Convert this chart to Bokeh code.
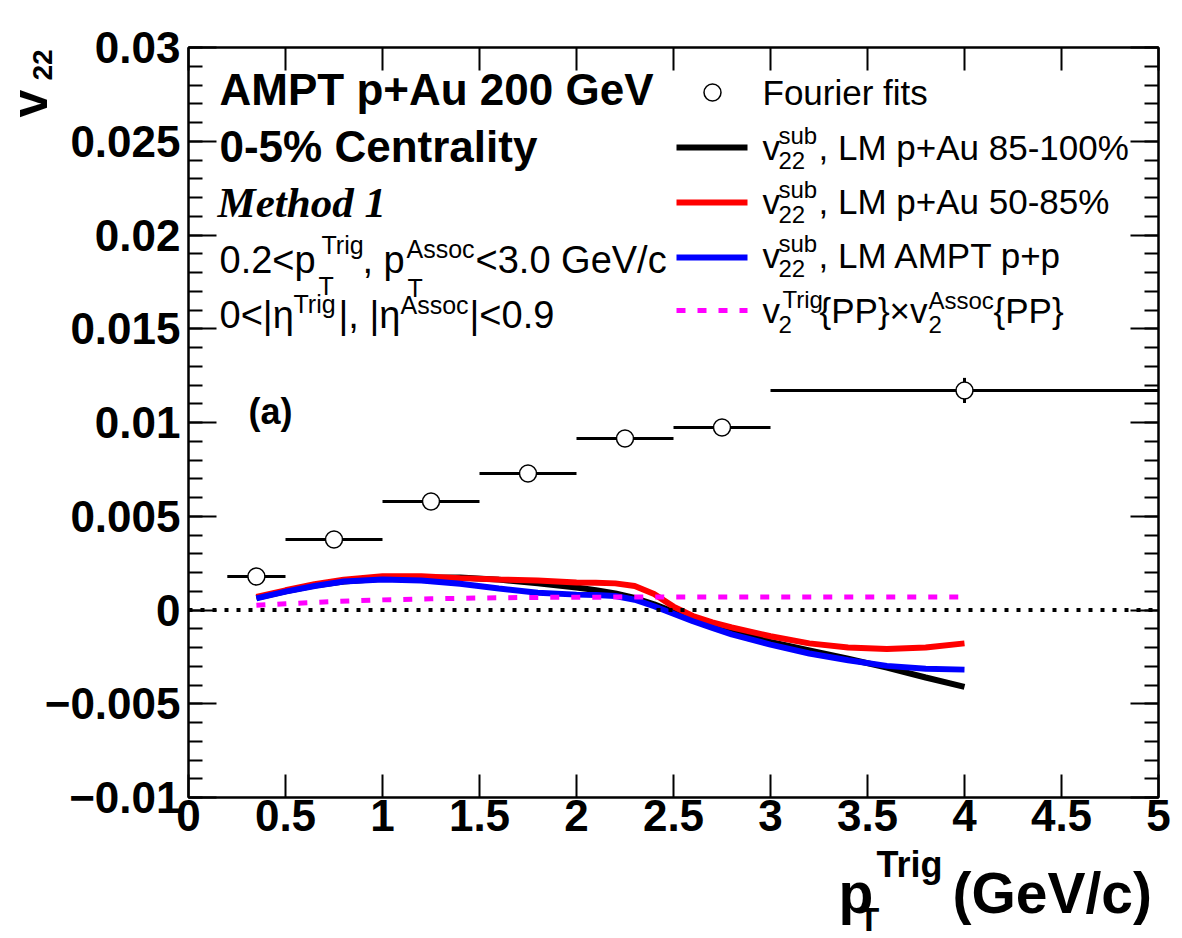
import math
from bokeh.plotting import figure
from bokeh.models import Range1d, LinearAxis, FixedTicker, Label, Span
from bokeh.embed import file_html
from bokeh.resources import INLINE

# ---------------- data ----------------
pt_centers = [0.35, 0.75, 1.25, 1.75, 2.25, 2.75, 4.0]
pt_low = [0.2, 0.5, 1.0, 1.5, 2.0, 2.5, 3.0]
pt_high = [0.5, 1.0, 1.5, 2.0, 2.5, 3.0, 5.0]
v22_fourier = [0.00179, 0.00376, 0.00579, 0.00728, 0.00915, 0.00973, 0.01171]
v22_fourier_err = [0.0001, 0.0001, 0.0001, 0.0001, 0.0001, 0.0001, 0.00067]

curve_pt = [0.35, 0.5, 0.65, 0.8, 1.0, 1.2, 1.4, 1.6, 1.8, 2.0, 2.1, 2.2, 2.3,
            2.4, 2.5, 2.6, 2.7, 2.8, 3.0, 3.2, 3.4, 3.6, 3.8, 4.0]
v22_lm_pAu_85_100 = [0.00065, 0.0010, 0.0013, 0.00152, 0.00166, 0.00172, 0.00173,
                     0.00162, 0.00143, 0.00120, 0.00106, 0.00088, 0.00064, 0.00030,
                     -0.0001, -0.0005, -0.00082, -0.00110, -0.00170, -0.00215,
                     -0.00260, -0.00307, -0.00360, -0.00410]
v22_lm_pAu_50_85 = [0.0007, 0.00105, 0.00137, 0.00162, 0.00180, 0.00180, 0.00170,
                    0.00163, 0.00157, 0.00147, 0.00145, 0.00142, 0.00128, 0.00085,
                    0.00018, -0.00032, -0.00066, -0.00093, -0.00140, -0.00178,
                    -0.00200, -0.00208, -0.00200, -0.00178]
v22_lm_pp = [0.00062, 0.00098, 0.00128, 0.00152, 0.00163, 0.00157, 0.00140,
             0.00115, 0.00092, 0.00082, 0.00080, 0.00075, 0.00055, 0.00020,
             -0.00020, -0.00060, -0.00095, -0.00130, -0.00185, -0.00232,
             -0.00268, -0.00298, -0.00313, -0.00318]

pp_pt = [0.35, 0.5, 0.75, 1.0, 1.25, 1.5, 1.75, 2.0, 2.5, 3.0, 3.5, 4.0]
v2v2_pp = [0.00025, 0.00033, 0.00045, 0.00054, 0.0006, 0.00064, 0.00067,
           0.00068, 0.0007, 0.0007, 0.0007, 0.0007]

x_ticks = [0, 0.5, 1, 1.5, 2, 2.5, 3, 3.5, 4, 4.5, 5]
x_tick_labels = ["0", "0.5", "1", "1.5", "2", "2.5", "3", "3.5", "4", "4.5", "5"]
y_ticks = [-0.01, -0.005, 0, 0.005, 0.01, 0.015, 0.02, 0.025, 0.03]
y_tick_labels = ["\u22120.01", "\u22120.005", "0", "0.005", "0.01", "0.015",
                 "0.02", "0.025", "0.03"]
y_minor_ticks = [round(-0.01 + 0.001 * i, 3) for i in range(41)]

# ---------------- figure ----------------
W, H = 1182, 938
FL, FR, FT, FB = 188, 1158, 47, 797
X0, X1, Y0, Y1 = 0.0, 5.0, -0.01, 0.03
FONT = "Liberation Sans"

p = figure(width=W, height=H, output_backend="svg", toolbar_location=None,
           x_range=Range1d(X0, X1), y_range=Range1d(Y0, Y1),
           min_border_left=FL, min_border_right=W - FR,
           min_border_top=FT, min_border_bottom=H - FB)
p.xgrid.visible = False
p.ygrid.visible = False
p.outline_line_color = "black"
p.outline_line_width = 2
p.background_fill_color = "white"
p.border_fill_color = "white"


def X(px):
    return X0 + (px - FL) / (FR - FL) * (X1 - X0)


def Y(py):
    return Y1 - (py - FT) / (FB - FT) * (Y1 - Y0)


xt = FixedTicker(ticks=x_ticks, minor_ticks=[])
yt = FixedTicker(ticks=y_ticks, minor_ticks=y_minor_ticks)

xa = p.xaxis[0]
xa.ticker = xt
xa.major_label_overrides = {t: l for t, l in zip(x_ticks, x_tick_labels)}
ya = p.yaxis[0]
ya.ticker = yt
ya.major_label_overrides = {t: l for t, l in zip(y_ticks, y_tick_labels)}

for ax in (xa, ya):
    ax.axis_line_width = 2
    ax.major_tick_line_width = 2
    ax.minor_tick_line_width = 2
    ax.major_tick_out = 0
    ax.minor_tick_out = 0
    ax.major_label_text_font = FONT
    ax.major_label_text_font_style = "bold"
    ax.major_label_text_font_size = "44px"
    ax.major_label_text_color = "black"

xa.major_tick_in = 23
xa.major_label_standoff = 2
ya.major_tick_in = 28
ya.minor_tick_in = 14
ya.major_label_standoff = 8

top = LinearAxis(ticker=xt, major_label_text_font_size="0px",
                 major_label_text_color=None, axis_line_width=2,
                 major_tick_in=23, major_tick_out=0, major_tick_line_width=2,
                 minor_tick_out=0, major_label_standoff=0)
right = LinearAxis(ticker=yt, major_label_text_font_size="0px",
                   major_label_text_color=None, axis_line_width=2,
                   major_tick_in=28, major_tick_out=0, minor_tick_in=14,
                   minor_tick_out=0, major_tick_line_width=2,
                   minor_tick_line_width=2, major_label_standoff=0)
p.add_layout(top, "above")
p.add_layout(right, "right")

# zero line
p.add_layout(Span(location=0, dimension="width", line_color="black",
                  line_width=4, line_dash="4 8"))

# curves
p.line(curve_pt, v22_lm_pAu_85_100, line_color="black", line_width=6)
p.line(curve_pt, v22_lm_pAu_50_85, line_color="#ff0000", line_width=6)
p.line(curve_pt, v22_lm_pp, line_color="#0000ff", line_width=6)
p.line(pp_pt, v2v2_pp, line_color="#ff00ff", line_width=5, line_dash="9 12")

# Fourier points with errors
p.segment(x0=pt_low, x1=pt_high, y0=v22_fourier, y1=v22_fourier,
          line_color="black", line_width=3)
p.segment(x0=pt_centers, x1=pt_centers,
          y0=[v - e for v, e in zip(v22_fourier, v22_fourier_err)],
          y1=[v + e for v, e in zip(v22_fourier, v22_fourier_err)],
          line_color="black", line_width=3)
p.scatter(pt_centers, v22_fourier, size=17, marker="circle",
          fill_color="white", line_color="black", line_width=1.5)

MID = 0.3465  # em-box centre above the baseline


def txt(s, px, py, size, font=FONT, style="normal", angle=0.0, place="center"):
    """px = left edge, py = baseline (pixels from top-left)."""
    if angle == 0.0:
        cx, cy = px, py - MID * size
    else:  # rotated 90 deg counter-clockwise: 'up' points to -x
        cx, cy = px - MID * size, py
    lab = Label(x=X(cx), y=Y(cy), text=s, text_font=font,
                text_font_style=style, text_font_size=f"{size}px",
                text_align="left", text_baseline="middle",
                angle=angle, text_color="black")
    p.add_layout(lab, place)


# annotation block
txt("AMPT p+Au 200 GeV", 219, 104, 44, style="bold")
txt("0-5% Centrality", 219, 161, 44, style="bold")
txt("Method 1", 217, 217, 43, font="Liberation Serif", style="bold italic")
txt("0.2<p", 219, 273, 38)
txt("Trig", 321, 253, 25)
txt("T", 318, 294, 25)
txt(", p", 362, 273, 38)
txt("Assoc", 406, 257, 25)
txt("T", 407, 296, 25)
txt("<3.0 GeV/c", 475, 273, 38)
txt("0<|\u03b7", 219, 328, 38)
txt("Trig", 293, 312, 25)
txt("|, |\u03b7", 338, 328, 38)
txt("Assoc", 400, 313, 25)
txt("|<0.9", 469, 328, 38)
txt("(a)", 248, 423, 36, style="bold")

# legend
p.scatter([X(712)], [Y(92)], size=17, marker="circle", fill_color="white",
          line_color="black", line_width=1.5)
txt("Fourier fits", 762, 104, 35)
leg_rows = [(147, 159, "black", ", LM p+Au 85-100%"),
            (202, 213, "#ff0000", ", LM p+Au 50-85%"),
            (257, 267, "#0000ff", ", LM AMPT p+p")]
for ly, bl, col, lab in leg_rows:
    p.line([X(676), X(747)], [Y(ly), Y(ly)], line_color=col, line_width=6)
    txt("v", 762, bl, 35)
    txt("sub", 778, bl - 16, 24)
    txt("22", 778, bl + 9, 24)
    txt(lab, 818, bl, 35)
p.line([X(676), X(747)], [Y(310), Y(310)], line_color="#ff00ff", line_width=5,
       line_dash="9 12")
txt("v", 762, 322, 35)
txt("Trig", 782, 307, 24)
txt("2", 778, 332, 24)
txt("{PP}\u00d7v", 819, 322, 35)
txt("Assoc", 928, 308, 24)
txt("2", 928, 332, 24)
txt("{PP}", 993, 322, 35)

# axis titles: outside the frame, so they live in the side panels
# (spread over the panels so that the frame keeps its place)
NB = "\u00a0"
txt("p" + NB * 5 + "(GeV/c)", 838, 912, 57, style="bold", place="below")
txt("v", 47, 117, 50, style="bold", angle=math.pi / 2, place="below")
txt("Trig", 876, 876, 36, style="bold", place="above")
txt("T", 858, 930, 34, style="bold", place="right")
txt("22", 52, 80, 28, style="bold", angle=math.pi / 2, place="left")

open("out.html", "w").write(file_html(p, INLINE))
